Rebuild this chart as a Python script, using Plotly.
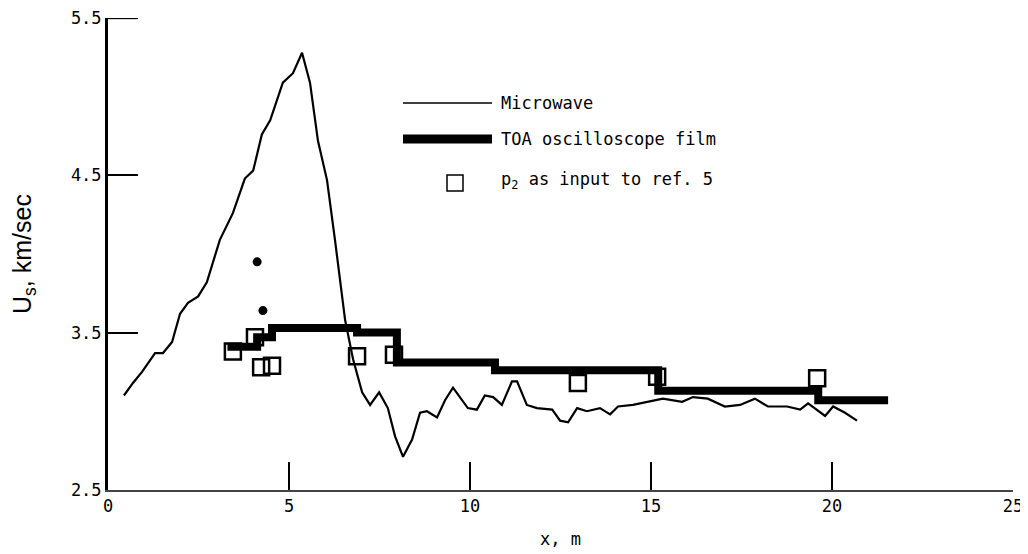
import plotly.graph_objects as go

# Microwave trace (x in m, Us in km/sec)
mw_x = [0.44, 0.69, 0.94, 1.10, 1.30, 1.52, 1.77, 1.99, 2.21, 2.49, 2.73, 3.09, 3.45, 3.78,
        4.01, 4.25, 4.48, 4.83, 5.11, 5.36, 5.58, 5.80, 6.05, 6.27, 6.55, 6.77, 7.02, 7.24,
        7.49, 7.73, 7.93, 8.15, 8.40, 8.62, 8.81, 9.09, 9.31, 9.53, 9.94, 10.19, 10.41, 10.64,
        10.88, 11.16, 11.30, 11.57, 11.85, 12.27, 12.49, 12.71, 12.96, 13.23, 13.59, 13.87,
        14.09, 14.50, 14.89, 15.33, 15.86, 16.16, 16.57, 17.04, 17.46, 17.87, 18.23, 18.76,
        19.12, 19.34, 19.81, 20.03, 20.36, 20.69]
mw_y = [3.10, 3.18, 3.25, 3.30, 3.37, 3.37, 3.44, 3.62, 3.69, 3.73, 3.82, 4.09, 4.26, 4.48,
        4.53, 4.76, 4.85, 5.09, 5.15, 5.28, 5.09, 4.72, 4.47, 4.09, 3.58, 3.33, 3.12, 3.04,
        3.12, 3.02, 2.84, 2.71, 2.82, 2.99, 3.00, 2.96, 3.07, 3.15, 3.02, 3.01, 3.10, 3.09,
        3.04, 3.19, 3.19, 3.04, 3.02, 3.01, 2.94, 2.93, 3.02, 3.00, 3.02, 2.98,
        3.03, 3.04, 3.06, 3.08, 3.06, 3.09, 3.08, 3.03, 3.04, 3.08, 3.03, 3.03,
        3.01, 3.05, 2.97, 3.03, 2.99, 2.94]

# TOA oscilloscope film (step levels)
toa_x = [3.30, 4.12, 4.53, 6.88, 7.98, 10.69, 15.20, 19.62, 21.55]
toa_y = [3.41, 3.47, 3.53, 3.50, 3.31, 3.26, 3.13, 3.07, 3.07]

# small solid points
dot_x = [4.12, 4.28]
dot_y = [3.95, 3.64]

# p2 as input to ref. 5
sq_x = [3.45, 4.06, 4.23, 4.53, 6.88, 7.90, 12.98, 15.17, 19.59]
sq_y = [3.38, 3.47, 3.28, 3.29, 3.35, 3.36, 3.18, 3.22, 3.21]

x_ticks = [0, 5, 10, 15, 20, 25]
y_ticks = [2.5, 3.5, 4.5, 5.5]

MONO = "DejaVu Sans Mono"

fig = go.Figure()
fig.add_trace(go.Scatter(x=mw_x, y=mw_y, mode="lines",
                         line=dict(color="black", width=2.2), showlegend=False))
fig.add_trace(go.Scatter(x=toa_x, y=toa_y, mode="lines",
                         line=dict(color="black", width=8, shape="hv"), showlegend=False))
fig.add_trace(go.Scatter(x=dot_x, y=dot_y, mode="markers",
                         marker=dict(color="black", size=9, symbol="circle"), showlegend=False))
fig.add_trace(go.Scatter(x=sq_x, y=sq_y, mode="markers",
                         marker=dict(symbol="square-open", size=16, color="black",
                                     line=dict(width=2.5, color="black")), showlegend=False))

# page offset (default body margin) compensation
OFF = 8
# plot area in screen pixels
W0, W1, H0, H1 = 108, 1013, 18, 490
def px(xp):
    return (xp - W0) / (W1 - W0)
def py(yp):
    return (H1 - yp) / (H1 - H0)

# top tick mark on the y axis (at the last tick value)
fig.add_shape(type="line", xref="paper", yref="y", x0=0, x1=30 / (W1 - W0),
              y0=y_ticks[-1], y1=y_ticks[-1], line=dict(color="black", width=2))

fig.add_shape(type="line", xref="paper", yref="paper", x0=px(403), x1=px(492), y0=py(103), y1=py(103),
              line=dict(color="black", width=1.5))
fig.add_shape(type="line", xref="paper", yref="paper", x0=px(403), x1=px(492), y0=py(139), y1=py(139),
              line=dict(color="black", width=9))
fig.add_shape(type="rect", xref="paper", yref="paper", x0=px(447), x1=px(463), y0=py(191), y1=py(175),
              line=dict(color="black", width=1.5), fillcolor="rgba(0,0,0,0)")
legend_txt = [("Microwave", 103), ("TOA oscilloscope film", 139), ("p<sub>2</sub> as input to ref. 5", 181)]
for t, yy in legend_txt:
    fig.add_annotation(text=t, xref="paper", yref="paper", x=px(499), y=py(yy), xanchor="left",
                       yanchor="middle", showarrow=False, font=dict(family=MONO, size=17, color="black"))

fig.update_layout(
    width=1028, height=554,
    margin=dict(l=W0 - OFF, r=1028 - W1 + OFF, t=H0 - OFF, b=554 - H1 + OFF, autoexpand=False),
    paper_bgcolor="white", plot_bgcolor="white",
    font=dict(family=MONO, size=17, color="black"),
)
fig.update_xaxes(range=[0, 25], tickvals=x_ticks, ticktext=[str(v) for v in x_ticks],
                 ticks="inside", ticklen=28, tickwidth=2, tickcolor="black", automargin=False,
                 showline=True, linecolor="#444", linewidth=1.5, showgrid=False, zeroline=False,
                 title=dict(text="x, m", standoff=18, font=dict(family=MONO, size=17)))
fig.update_yaxes(range=[2.499, 5.501], tickvals=y_ticks, ticktext=["2.5", "3.5", "4.5", "5.5"],
                 ticks="inside", ticklen=30, tickwidth=2, tickcolor="black", automargin=False,
                 showline=True, linecolor="black", linewidth=3, showgrid=False, zeroline=False,
                 title=dict(text="U<sub>s</sub>, km/sec", standoff=42,
                            font=dict(family="Liberation Sans", size=25)))

fig.write_html("out.html")
